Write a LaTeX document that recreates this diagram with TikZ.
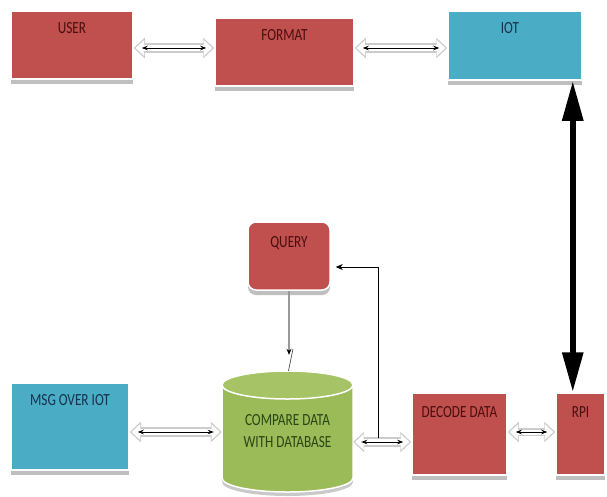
\documentclass[tikz,border=0pt]{standalone}
\usepackage{fontspec}
\setmainfont{Carlito}[FakeStretch=0.78]
\usetikzlibrary{arrows.meta,shadows,calc}
\definecolor{boxred}{HTML}{C0504D}
\definecolor{boxblue}{HTML}{4BACC6}
\definecolor{boxgreen}{HTML}{9BBB59}
\definecolor{topgreen}{HTML}{A6C466}
\definecolor{txtred}{HTML}{4A0E0E}
\definecolor{txtblue}{HTML}{16324A}
\definecolor{txtgreen}{HTML}{2B4512}
\begin{document}
\begin{tikzpicture}[x=1pt,y=-1pt,
  box/.style={draw=white, line width=1.5pt, inner sep=0pt,
    drop shadow={shadow xshift=0pt, shadow yshift=-5pt, fill=black!45, opacity=.55}},
  redbox/.style={box, fill=boxred},
  bluebox/.style={box, fill=boxblue},
  lbl/.style={anchor=north, inner sep=0pt, font=\fontsize{17}{20}\selectfont},
  blkout/.style={line width=10pt, draw=black!20,
    {Triangle[length=11pt,width=20pt]}-{Triangle[length=11pt,width=20pt]}},
  blkin/.style={line width=6.5pt, draw=white,
    {Triangle[length=8.5pt,width=15pt]}-{Triangle[length=8.5pt,width=15pt]},
    shorten <=1.8pt, shorten >=1.8pt},
  blkline/.style={line width=0.9pt, draw=black,
    {Stealth[length=6pt,width=4.5pt]}-{Stealth[length=6pt,width=4.5pt]},
    shorten <=8pt, shorten >=8pt},
  bigarrow/.style={line width=6pt, draw=black,
    {Triangle[length=40pt,width=20pt]}-{Triangle[length=40pt,width=20pt]}},
  fbline/.style={line width=0.8pt, draw=black, -{Stealth[length=7pt,width=6pt]}},
  qline/.style={line width=1.4pt, draw=black!40, -{Stealth[length=6pt,width=5pt,black]}}
]
\useasboundingbox (0,0) rectangle (607,496);
\fill[white] (0,0) rectangle (607,496);

% boxes
\node[redbox, minimum width=122pt, minimum height=68pt,
  label={[lbl, text=txtred, yshift=-12.5pt]north:USER}] (user) at (72,45) {};
\node[redbox, minimum width=139pt, minimum height=68pt,
  label={[lbl, text=txtred, yshift=-12pt]north:FORMAT}] (format) at (284.5,52) {};
\node[bluebox, minimum width=134pt, minimum height=69pt,
  label={[lbl, text=txtblue, yshift=-12.5pt, xshift=-5pt]north:IOT}] (iot) at (515,45.5) {};
\node[redbox, rounded corners=8pt, minimum width=82pt, minimum height=68pt,
  label={[lbl, text=txtred, yshift=-15.5pt]north:QUERY}] (query) at (289,256) {};
\node[bluebox, minimum width=118pt, minimum height=87pt,
  label={[lbl, text=txtblue, yshift=-12.5pt]north:MSG OVER IOT}] (msg) at (70,426.5) {};
\node[redbox, minimum width=95pt, minimum height=82pt,
  label={[lbl, text=txtred, yshift=-14pt]north:DECODE DATA}] (decode) at (459.5,434) {};
\node[redbox, minimum width=49pt, minimum height=82pt,
  label={[lbl, text=txtred, yshift=-14pt]north:RPI}] (rpi) at (580.5,434) {};

% cylinder
\fill[black!35, opacity=.6] (222,389) -- (222,482) arc[start angle=180, end angle=0, x radius=65.5, y radius=14] -- (353,389) -- cycle;
\fill[boxgreen] (222,385) -- (222,478) arc[start angle=180, end angle=0, x radius=65.5, y radius=14] -- (353,385) -- cycle;
\draw[white, line width=1.5pt] (222,385) -- (222,478) arc[start angle=180, end angle=0, x radius=65.5, y radius=14] -- (353,385);
\filldraw[fill=topgreen, draw=white, line width=1.5pt] (287.5,385) ellipse[x radius=65.5, y radius=14];
\node[minimum width=131pt, minimum height=121pt, inner sep=0pt, align=center,
  text=txtgreen, font=\fontsize{17}{22}\selectfont] (db) at (287.5,431.5)
  {COMPARE DATA\\WITH DATABASE};

% connector end points
\coordinate (a1) at ([yshift=-3pt]user.east);
\coordinate (b1) at (a1 -| format.west);
\coordinate (a2) at ([yshift=4pt]format.east);
\coordinate (b2) at (a2 -| iot.west);
\coordinate (a3) at ([yshift=-5.5pt]msg.east);
\coordinate (b3) at (a3 -| db.west);
\coordinate (a4) at ([yshift=-10.5pt]db.east);
\coordinate (b4) at (a4 -| decode.west);
\coordinate (a5) at ([yshift=2pt]decode.east);
\coordinate (b5) at (a5 -| rpi.west);

% block double arrows
\foreach \s/\t in {a1/b1, a2/b2, a3/b3, a4/b4} {
  \draw[blkout] (\s) -- (\t);
  \draw[blkin] (\s) -- (\t);
  \draw[blkline] (\s) -- (\t);
}
\draw[blkout, line width=8pt] (a5) -- (b5);
\draw[blkin, line width=5pt] (a5) -- (b5);
\draw[blkline, line width=0.7pt] (a5) -- (b5);

% big arrow IOT <-> RPI
\coordinate (ia) at ([xshift=-10pt]iot.south east);
\coordinate (ra) at (ia |- rpi.north);
\draw[bigarrow] (ia) -- (ra);

% feedback from db-decode connector to query
\coordinate (fb) at ([xshift=25pt,yshift=-6pt]db.east);
\coordinate (qe) at ([xshift=5pt,yshift=-11pt]query.east);
\draw[fbline] (fb) |- (qe);

% query to db
\coordinate (qend) at ([yshift=16pt]db.north);
\coordinate (qs) at (query.south |- qend);
\draw[qline] (query.south) -- (qs);
\draw[black!70, line width=0.7pt] ([xshift=4pt,yshift=6pt]qs) -- ([xshift=1pt]db.north);
\end{tikzpicture}
\end{document}
